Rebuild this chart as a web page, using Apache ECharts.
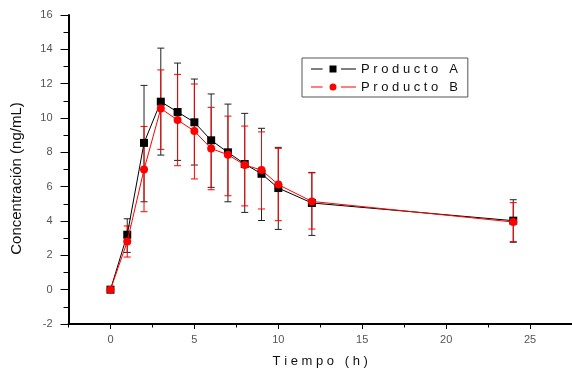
<!DOCTYPE html>
<html>
<head>
<meta charset="utf-8">
<script src="https://cdn.jsdelivr.net/npm/echarts@6/dist/echarts.min.js"></script>
<style>
  html, body { margin: 0; padding: 0; background: #fff; }
  #chart { width: 572px; height: 374px; }
</style>
</head>
<body>
<div id="chart"></div>
<script>
// ---- data ----
const times = [0, 1, 2, 3, 4, 5, 6, 7, 8, 9, 10, 12, 24];
const meanA = [0, 3.2, 8.55, 10.95, 10.35, 9.75, 8.7, 8.0, 7.32, 6.75, 5.92, 5.05, 4.02];
const hiA   = [0, 4.13, 11.9, 14.07, 13.2, 12.27, 11.4, 10.81, 10.27, 9.4, 8.29, 6.83, 5.24];
const loA   = [0, 2.17, 5.12, 7.84, 7.53, 7.26, 5.96, 5.12, 4.5, 4.03, 3.51, 3.16, 2.76];
const meanB = [0, 2.8, 7.0, 10.55, 9.88, 9.24, 8.22, 7.86, 7.26, 6.97, 6.12, 5.14, 3.94];
const hiB   = [0, 3.71, 9.51, 12.8, 12.54, 11.98, 10.62, 10.11, 9.53, 9.19, 8.23, 6.8, 5.07];
const loB   = [0, 1.9, 4.54, 8.17, 7.22, 6.45, 5.82, 5.47, 4.88, 4.7, 4.02, 3.53, 2.8];
const seriesNames = ['Producto A', 'Producto B'];
const xMajorTicks = [0, 5, 10, 15, 20, 25];
const xMinorTicks = [-2.5, 2.5, 7.5, 12.5, 17.5, 22.5, 27.5];
const xTitle = 'Tiempo (h)';
const yTitle = 'Concentración (ng/mL)';

const spaced = s => s.split('').join(' ');

function errSeries(name, lo, hi, color, z) {
  const data = [];
  times.forEach((t, i) => { if (hi[i] > lo[i]) data.push([t, lo[i], hi[i]]); });
  return {
    type: 'custom',
    name: name + ' err',
    z: z,
    silent: true,
    data: data,
    encode: { x: 0, y: [1, 2] },
    renderItem: function (params, api) {
      const x = api.value(0);
      const p1 = api.coord([x, api.value(1)]);
      const p2 = api.coord([x, api.value(2)]);
      const w = 3.5;
      const st = { stroke: color, lineWidth: 1 };
      return {
        type: 'group',
        children: [
          { type: 'line', shape: { x1: p1[0], y1: p1[1], x2: p2[0], y2: p2[1] }, style: st },
          { type: 'line', shape: { x1: p1[0] - w, y1: p1[1], x2: p1[0] + w, y2: p1[1] }, style: st },
          { type: 'line', shape: { x1: p2[0] - w, y1: p2[1], x2: p2[0] + w, y2: p2[1] }, style: st }
        ]
      };
    }
  };
}

// legend icons: line - gap - marker - gap - line
const iconA = 'path://M0,3.5h11.6v1h-11.6Z M18.5,0.5h7v7h-7Z M30,3.5h15v1h-15Z M0,0h0.01v0.01h-0.01Z M0,8h0.01v-0.01h-0.01Z';
const iconB = 'path://M0,3.5h11.6v1h-11.6Z M18.5,4a3.5,3.5 0 1,0 7,0a3.5,3.5 0 1,0 -7,0Z M30,3.5h15v1h-15Z M0,0h0.01v0.01h-0.01Z M0,8h0.01v-0.01h-0.01Z';

const chart = echarts.init(document.getElementById('chart'), null, { renderer: 'canvas' });
const font = 'Liberation Sans, Arial, sans-serif';
const xAxisBase = {
  type: 'value', min: -2.5, max: 27.5, gridIndex: 0, position: 'bottom',
  splitLine: { show: false }
};
chart.setOption({
  animation: false,
  backgroundColor: '#fff',
  textStyle: { fontFamily: font },
  grid: { left: 68.5, top: 15, width: 506, height: 309, containLabel: false },
  legend: {
    orient: 'vertical',
    left: 302, top: 58,
    data: [
      { name: seriesNames[0], icon: iconA },
      { name: seriesNames[1], icon: iconB }
    ],
    formatter: n => spaced(n),
    itemWidth: 45, itemHeight: 8, itemGap: 4,
    padding: [4, 10, 3, 9],
    borderColor: '#555', borderWidth: 1,
    textStyle: { fontSize: 13, color: '#111', fontFamily: font, lineHeight: 14 }
  },
  xAxis: [
    Object.assign({}, xAxisBase, {
      name: spaced(xTitle),
      nameLocation: 'middle', nameGap: 31,
      nameTextStyle: { fontSize: 13, color: '#111', fontFamily: font },
      axisLine: { show: true, onZero: false, lineStyle: { color: '#000', width: 2 } },
      axisTick: { show: true, inside: false, length: 5, customValues: xMajorTicks, lineStyle: { color: '#000', width: 1 } },
      axisLabel: { show: true, customValues: xMajorTicks, margin: 10, fontSize: 11, color: '#555', fontFamily: font }
    }),
    Object.assign({}, xAxisBase, {
      axisLine: { show: false, onZero: false },
      axisTick: { show: true, inside: false, length: 3.5, customValues: xMinorTicks, lineStyle: { color: '#000', width: 1 } },
      axisLabel: { show: false }
    })
  ],
  yAxis: {
    type: 'value', min: -2, max: 16, interval: 2,
    name: yTitle, nameLocation: 'middle', nameRotate: 90, nameGap: 44,
    nameTextStyle: { fontSize: 15, color: '#111', fontFamily: font, padding: [0, 18, 0, 0] },
    axisLine: { show: true, onZero: false, lineStyle: { color: '#000', width: 2 } },
    axisTick: { show: true, inside: false, length: 8, lineStyle: { color: '#000', width: 1 } },
    minorTick: { show: true, splitNumber: 2, length: 5, lineStyle: { color: '#000', width: 1 } },
    axisLabel: { margin: 16, fontSize: 11, color: '#555', fontFamily: font },
    splitLine: { show: false }
  },
  series: [
    errSeries(seriesNames[0], loA, hiA, '#222', 1),
    errSeries(seriesNames[1], loB, hiB, '#ff0000', 2),
    {
      type: 'line', name: seriesNames[0], z: 3,
      data: times.map((t, i) => [t, meanA[i]]),
      symbol: 'rect', symbolSize: 8,
      itemStyle: { color: '#000' },
      lineStyle: { color: '#000', width: 1 }
    },
    {
      type: 'line', name: seriesNames[1], z: 4,
      data: times.map((t, i) => [t, meanB[i]]),
      symbol: 'circle', symbolSize: 8,
      itemStyle: { color: '#ff0000' },
      lineStyle: { color: '#ff0000', width: 1 }
    }
  ]
});
</script>
</body>
</html>
